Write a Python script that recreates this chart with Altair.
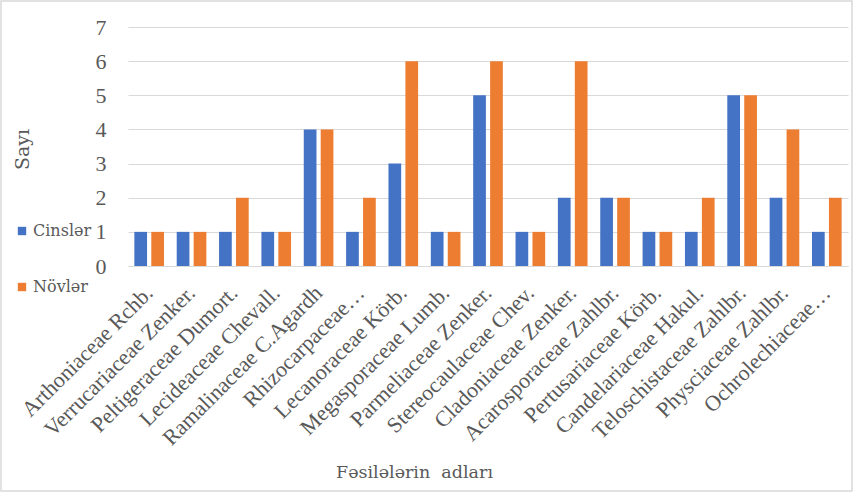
import altair as alt
import pandas as pd

families = [
    "Arthoniaceae Rchb.", "Verrucariaceae Zenker.", "Peltigeraceae Dumort.",
    "Lecideaceae Chevall.", "Ramalinaceae C.Agardh", "Rhizocarpaceae…",
    "Lecanoraceae Körb.", "Megasporaceae Lumb.", "Parmeliaceae Zenker.",
    "Stereocaulaceae Chev.", "Cladoniaceae Zenker.", "Acarosporaceae Zahlbr.",
    "Pertusariaceae Körb.", "Candelariaceae Hakul.", "Teloschistaceae Zahlbr.",
    "Physciaceae Zahlbr.", "Ochrolechiaceae…",
]
cinsler = [1, 1, 1, 1, 4, 1, 3, 1, 5, 1, 2, 2, 1, 1, 5, 2, 1]
novler = [1, 1, 2, 1, 4, 2, 6, 1, 6, 1, 6, 2, 1, 2, 5, 4, 2]
series = ["Cinslər", "Növlər"]
colors = ["#4472C4", "#ED7D31"]

rows = []
for f, c, n in zip(families, cinsler, novler):
    rows.append({"fam": f, "ser": series[0], "val": c})
    rows.append({"fam": f, "ser": series[1], "val": n})
df = pd.DataFrame(rows)

FONT = "Liberation Serif"
FONT2 = "DejaVu Serif"
TXT = "#595959"

bars = alt.Chart(df).mark_bar().encode(
    x=alt.X("fam:N", sort=families,
            scale=alt.Scale(paddingInner=0.3, paddingOuter=0.15),
            axis=alt.Axis(title="Fəsilələrin\u00a0 adları", labelAngle=-45,
                          labelAlign="right", labelBaseline="middle",
                          labelFontSize=22, labelFont=FONT, labelColor=TXT,
                          labelPadding=23, labelLimit=400, ticks=False,
                          domainColor="#d9d9d9",
                          titleFont=FONT2, titleFontSize=17.5, titleColor=TXT,
                          titleFontWeight="normal", titleX=286, titleY=211,
                          titleBaseline="alphabetic", labelOverlap=False)),
    xOffset=alt.XOffset("ser:N", sort=series,
                        scale=alt.Scale(paddingInner=0.25)),
    y=alt.Y("val:Q", scale=alt.Scale(domain=[0, 7]),
            axis=alt.Axis(title="Sayı", values=list(range(8)), domain=False,
                          ticks=False, labelFontSize=22, labelFont=FONT,
                          labelColor=TXT, labelPadding=22, gridColor="#d9d9d9",
                          titleFont=FONT2, titleFontSize=19, titleColor=TXT,
                          titleFontWeight="normal", titleX=-100, titleY=122,
                          titleAngle=-90, titleAlign="center",
                          titleBaseline="alphabetic")),
    color=alt.Color("ser:N", sort=series,
                    scale=alt.Scale(domain=series, range=colors),
                    legend=alt.Legend(title=None, orient="none", legendX=-114,
                                      legendY=196, symbolType="square",
                                      symbolSize=70, labelFont=FONT2,
                                      labelFontSize=16, labelColor=TXT,
                                      rowPadding=40, symbolStrokeWidth=0,
                                      labelOffset=3)),
)

border = alt.Chart(pd.DataFrame({"a": [0]})).mark_rect(
    filled=False, stroke="#d9d9d9", strokeWidth=1.5
).encode(x=alt.value(-127), x2=alt.value(724), y=alt.value(-26), y2=alt.value(464))

chart = alt.layer(bars, border).properties(
    width=720, height=239,
    padding={"left": 128, "top": 27, "right": 5, "bottom": 226},
    autosize=alt.AutoSizeParams(type="none"),
    background="white",
).configure(font=FONT).configure_view(stroke=None)

chart.save("out.html", embed_options={"renderer": "svg", "actions": False})
